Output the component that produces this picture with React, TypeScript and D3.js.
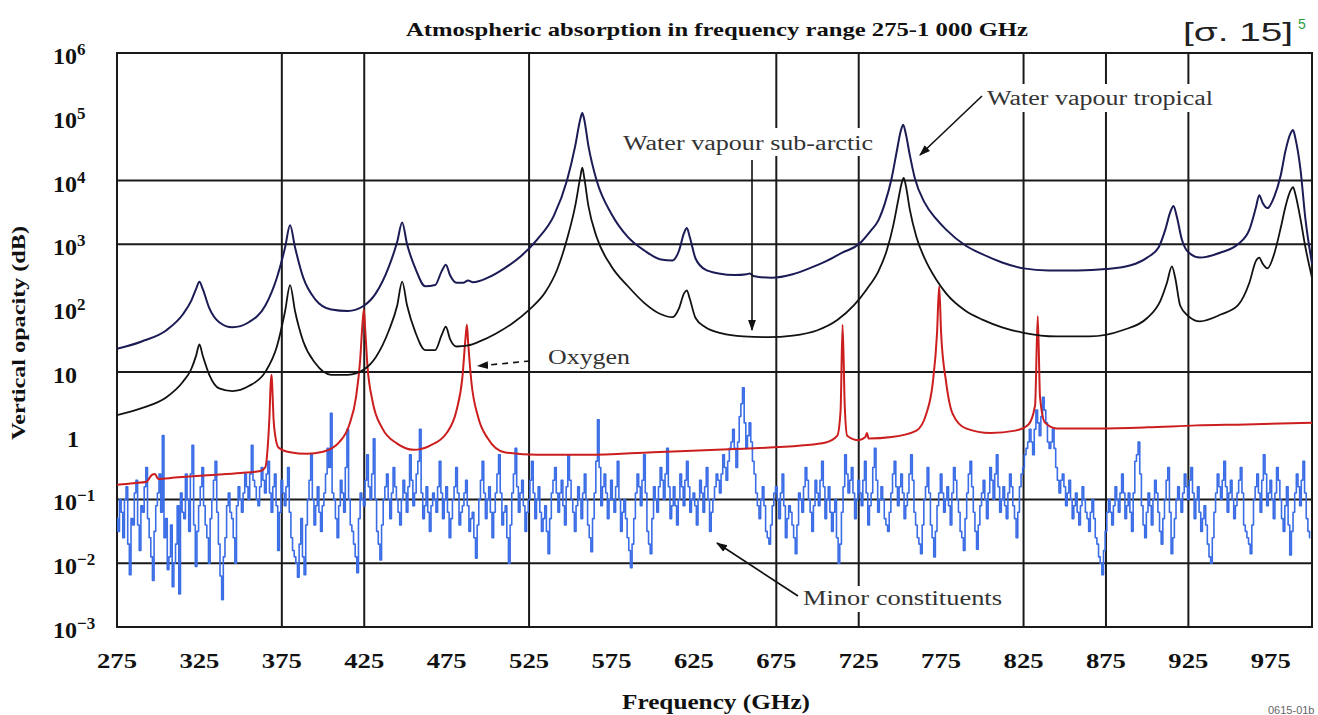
import React from 'react';
import * as d3 from 'd3';

// frequency axis (GHz)
const X_DOMAIN: [number, number] = [275, 1000];
const X_TICKS = [275, 325, 375, 425, 475, 525, 575, 625, 675, 725, 775, 825, 875, 925, 975];
const V_GRID = [375, 425, 525, 675, 725, 825, 875, 925];
// opacity axis, decades
const Y_TICK_EXP = [6, 5, 4, 3, 2, 1, 0, -1, -2, -3];
const H_GRID_EXP = [4, 3, 1, -1, -2];

// water vapour, tropical atmosphere [GHz, dB]
const tropical: [number, number][] = [
  [275, 23], [290, 30], [305, 45], [315, 80], [320, 130], [323, 200], [325, 260], [327, 200],
  [331, 100], [337, 60], [345, 50], [355, 60], [365, 110], [372, 300], [377, 900], [380, 2000],
  [383, 900], [388, 300], [395, 140], [405, 95], [415, 90], [425, 110], [432, 170], [440, 450],
  [445, 1100], [448, 2200], [451, 1000], [456, 420], [462, 220], [468, 230], [472, 380], [474.5, 480],
  [477, 330], [481, 250], [485, 250], [488, 270], [491, 255], [500, 300], [510, 420], [520, 650],
  [530, 1200], [540, 2800], [548, 10000], [553, 35000], [556, 90000], [557.3, 115000], [558.5, 90000],
  [561, 35000], [566, 10000], [575, 3000], [585, 1300], [595, 800], [605, 580], [612, 560], [616, 800],
  [619, 1500], [620.7, 1800], [622.5, 1300], [626, 600], [632, 400], [640, 350], [650, 330], [657, 340],
  [659, 350], [661, 320], [672, 300], [685, 340], [695, 420], [705, 540], [715, 740], [725, 1000],
  [732, 1600], [737, 2400], [741, 4500], [745, 11000], [748, 28000], [750.5, 60000], [752, 75000],
  [753.5, 55000], [756, 25000], [759, 11000], [765, 4500], [772, 2500], [778, 1700], [790, 950],
  [800, 700], [812, 520], [825, 420], [840, 390], [858, 390], [875, 410], [890, 470], [900, 620],
  [907, 900], [911, 1700], [914, 3200], [916, 4000], [918, 2700], [921, 1200], [925, 750], [932, 620],
  [945, 750], [955, 1000], [962, 1700], [966, 3800], [968, 5900], [970, 4500], [973, 3700], [977, 5500],
  [981, 12000], [984, 30000], [987, 55000], [988.5, 62000], [990, 45000], [993, 15000], [996, 2500],
  [1000, 500],
];

// water vapour, sub-arctic atmosphere [GHz, dB]
const subArctic: [number, number][] = [
  [275, 2.1], [290, 2.7], [305, 4], [315, 7], [320, 11], [323, 18], [325, 27], [327, 18], [331, 9],
  [337, 5.5], [345, 5], [355, 6], [365, 10], [372, 25], [377, 90], [380, 230], [383, 90], [388, 30],
  [395, 14], [405, 9], [415, 9], [425, 11], [432, 17], [440, 45], [445, 110], [448, 260], [451, 110],
  [456, 42], [462, 22], [468, 22], [472, 38], [474.5, 51], [477, 33], [481, 25], [488, 26], [495, 30],
  [505, 40], [515, 58], [525, 94], [535, 180], [542, 400], [548, 1200], [553, 4000], [556, 11000],
  [557.3, 16000], [558.5, 11000], [561, 4000], [566, 1300], [575, 450], [585, 220], [595, 120],
  [605, 80], [612, 72], [616, 100], [619, 170], [620.7, 190], [622.5, 140], [626, 70], [632, 50],
  [642, 40], [655, 36], [670, 35], [685, 37], [700, 45], [712, 65], [722, 110], [730, 200], [737, 380],
  [742, 800], [746, 2000], [749, 5000], [751, 9000], [752.3, 11000], [753.5, 8500], [756, 3500],
  [760, 1300], [765, 600], [772, 280], [778, 170], [790, 90], [800, 66], [812, 50], [825, 41],
  [845, 36], [865, 36], [885, 45], [900, 70], [908, 130], [912, 250], [915, 450], [917, 300], [920, 110],
  [925, 75], [932, 62], [945, 80], [955, 110], [962, 250], [966, 550], [968, 620], [970, 500],
  [973, 420], [977, 700], [981, 1800], [984, 4000], [987, 7000], [988.5, 7900], [990, 6000],
  [993, 2500], [996, 900], [1000, 300],
];

// oxygen [GHz, dB]
const oxygen: [number, number][] = [
  [275, 0.17], [285, 0.18], [293, 0.19], [296, 0.24], [298, 0.25], [300, 0.21], [310, 0.22],
  [330, 0.24], [350, 0.26], [362, 0.28], [365, 0.32], [366.5, 0.7], [367.5, 2], [368.3, 7], [368.8, 9],
  [369.3, 5], [370, 1.8], [371, 1.0], [373, 0.65], [380, 0.55], [390, 0.52], [400, 0.56], [410, 0.8],
  [416, 1.5], [420, 4], [422.5, 15], [424, 60], [424.8, 95], [425.5, 50], [427, 12], [430, 3.5],
  [436, 1.3], [445, 0.75], [455, 0.6], [465, 0.7], [475, 1.1], [481, 2.5], [484.5, 8], [486.5, 35],
  [487.3, 55], [488, 30], [490, 7], [494, 2], [500, 0.9], [510, 0.55], [530, 0.5], [560, 0.5],
  [600, 0.55], [650, 0.62], [690, 0.7], [705, 0.78], [712, 1.0], [714, 2.5], [715.2, 55], [716.5, 3],
  [718, 1.0], [725, 0.85], [729, 0.95], [730, 1.1], [731, 0.9], [745, 0.95], [760, 1.2], [766, 2.2],
  [770, 7], [772.5, 40], [773.8, 220], [775, 40], [778, 7], [782, 2.2], [790, 1.3], [805, 1.1],
  [820, 1.2], [828, 1.5], [832, 3], [833.6, 75], [835, 4], [838, 1.6], [845, 1.3], [870, 1.3],
  [900, 1.35], [930, 1.45], [960, 1.5], [1000, 1.6],
];

// minor constituents, log10(dB), odd GHz 275..999
const minorOdd = [
  // 275-323
  -1.3, -1.0, -1.6, -0.8, -2.18, -1.4, -0.7, -1.8, -1.2, -0.5, -1.6, -2.27, -1.1, -0.6, 0.0, -1.3, -1.9, -2.37, -1.7, -2.48, -1.2, -0.6, -1.5, -0.15, -2.05,
  // 325-373
  -1.1, -0.5, -1.4, -2.0, -1.0, -0.4, -1.7, -2.57, -1.6, -0.9, -1.3, -2.0, -0.8, -1.2, -0.6, -1.0, -0.15, -0.8, -1.1, -0.5, -0.9, -0.4, -1.2, -0.6, -1.8,
  // 375-423
  -0.7, -1.1, -0.5, -1.6, -1.9, -2.22, -1.3, -2.18, -1.0, -0.3, -1.4, -0.8, -1.5, -0.9, -0.2, 0.35, -1.0, -1.6, -0.7, -1.2, 0.1, -1.4, -1.7, -2.15, -0.9,
  // 425-473
  -1.1, -0.3, -1.0, -0.05, -1.5, -1.95, -1.0, -0.6, -1.3, -0.5, -1.0, -1.4, -0.7, -1.2, -0.3, -1.1, -0.6, 0.1, -1.3, -0.8, -1.5, -0.9, -1.2, -0.4, -1.3,
  // 475-523
  -0.8, -1.6, -1.0, -0.5, -1.4, -1.1, -0.7, -1.5, -1.2, -1.92, -1.0, -0.4, -1.3, -0.8, -1.6, -0.9, -0.3, -1.4, -1.1, -2.0, -0.9, -0.2, -1.2, -0.7, -1.5,
  // 525-573
  -1.0, -0.4, -1.3, -0.8, -1.5, -1.1, -1.85, -0.9, -0.5, -1.2, -0.7, -1.4, -0.3, -1.0, -1.5, -0.8, -1.3, -0.6, -1.4, -1.82, -0.9, 0.25, -1.1, -0.6, -1.3,
  // 575-623
  -0.7, -1.2, -0.4, -1.5, -1.0, -1.6, -2.07, -1.3, -0.6, -1.1, -0.3, -1.5, -1.85, -0.8, -1.2, -0.5, -1.0, -0.2, -1.3, -0.8, -1.4, -0.6, -1.1, -0.4, -1.2,
  // 625-673
  -0.9, -1.4, -0.7, -1.2, -0.5, -1.5, -1.0, -0.6, -0.9, -0.3, -0.7, -0.2, 0.1, -0.5, 0.3, 0.75, -0.2, 0.2, -0.4, -0.9, -1.3, -0.8, -1.5, -1.7, -1.1,
  // 675-723
  -0.8, -1.3, -0.6, -1.6, -1.1, -1.4, -1.85, -0.9, -1.2, -0.5, -1.0, -1.5, -0.7, -1.1, -0.4, -1.3, -0.8, -1.5, -1.0, -2.0, -1.2, -0.3, -0.9, -0.5, -1.3,
  // 725-773
  -0.7, -1.1, -0.4, -1.4, -0.9, -0.2, -1.2, -0.8, -1.3, -1.5, -0.9, -0.4, -1.1, -0.6, -1.3, -0.9, -0.3, -1.2, -1.6, -1.85, -1.0, -0.5, -1.4, -1.9, -1.1,
  // 775-823
  -0.6, -1.2, -0.8, -1.4, -0.5, -1.0, -1.5, -1.8, -0.9, -0.4, -1.2, -1.78, -1.1, -0.7, -1.3, -0.5, -1.0, -0.3, -1.2, -0.8, -1.3, -0.6, -1.1, -1.6, -0.8,
  // 825-873
  -0.5, -0.2, 0.1, -0.3, 0.4, 0.0, 0.6, 0.2, -0.2, 0.1, -0.5, -0.9, -0.6, -1.1, -0.7, -1.3, -0.9, -1.4, -0.8, -1.2, -1.5, -1.0, -1.6, -1.9, -2.18,
  // 875-923
  -1.5, -1.0, -1.4, -0.8, -1.2, -0.6, -1.3, -0.9, -1.5, -0.4, -0.1, -1.1, -1.6, -0.9, -1.4, -0.7, -1.2, -1.7, -1.0, -0.5, -1.85, -1.3, -0.8, -1.2, -0.6,
  // 925-973
  -1.0, -0.5, -1.3, -0.8, -1.5, -1.1, -1.7, -2.0, -1.2, -0.6, -1.0, -0.4, -1.2, -0.7, -1.3, -0.9, -0.5, -1.4, -1.6, -1.85, -1.0, -0.6, -1.2, -0.3, -1.1,
  // 975-999
  -0.7, -1.3, -0.5, -1.0, -1.5, -0.8, -1.87, -1.2, -0.6, -1.1, -0.4, -1.3, -1.6,
];

// minor constituents, log10(dB), even GHz 276..998
const minorEven = [
  // 276-324
  -1.5, -1.2, -1.0, -1.7, -1.3, -0.9, -1.4, -1.1, -0.8, -1.3, -1.9, -1.5, -0.9, -1.2, -1.6, -2.1, -1.4, -2.0, -1.1, -0.9, -1.3, -1.0, -0.6, -1.4, -1.5,
  // 326-374
  -0.8, -1.1, -1.6, -1.3, -0.7, -1.2, -2.2, -1.9, -1.1, -1.2, -1.6, -1.1, -1.0, -0.9, -0.8, -0.6, -0.7, -1.0, -0.8, -0.7, -0.6, -0.9, -0.8, -1.1, -1.2,
  // 376-424
  -0.9, -0.8, -1.2, -1.8, -2.0, -1.7, -1.9, -1.4, -0.7, -1.0, -1.1, -1.2, -1.1, -0.6, -0.5, -0.9, -1.3, -1.1, -0.9, -0.5, -1.0, -1.5, -1.9, -1.3, -1.0,
  // 426-474
  -0.7, -0.8, -0.6, -1.0, -1.7, -1.4, -0.8, -1.0, -0.9, -0.8, -1.2, -1.0, -0.9, -0.8, -0.7, -0.9, -0.4, -0.9, -1.1, -1.2, -1.1, -1.0, -0.8, -0.9, -1.0,
  // 476-524
  -1.2, -1.3, -0.8, -0.9, -1.2, -0.9, -1.1, -1.3, -1.6, -1.4, -0.7, -0.9, -1.0, -1.2, -1.2, -0.6, -0.9, -1.2, -1.6, -1.4, -0.6, -0.8, -0.9, -1.1, -1.2,
  // 526-574
  -0.7, -0.9, -1.0, -1.2, -1.3, -1.5, -1.3, -0.7, -0.9, -0.9, -1.1, -0.8, -0.7, -1.2, -1.1, -1.0, -0.9, -1.0, -1.6, -1.3, -0.4, -0.5, -0.8, -0.9, -1.0,
  // 576-624
  -1.0, -0.8, -1.0, -1.2, -1.3, -1.8, -1.7, -0.9, -0.8, -0.7, -0.9, -1.7, -1.3, -1.0, -0.8, -0.7, -0.6, -0.8, -1.1, -1.1, -1.0, -0.8, -0.7, -0.8, -1.0,
  // 626-674
  -1.1, -1.0, -0.9, -0.8, -1.0, -1.2, -0.8, -0.7, -0.6, -0.5, -0.4, -0.1, -0.2, -0.1, 0.5, 0.2, 0.0, -0.1, -0.6, -1.1, -1.0, -1.1, -1.6, -1.4, -0.9,
  // 676-724
  -1.0, -0.9, -1.1, -1.3, -1.2, -1.6, -1.4, -1.0, -0.8, -0.7, -1.2, -1.1, -0.9, -0.7, -0.8, -1.0, -1.2, -1.2, -1.6, -1.7, -0.8, -0.6, -0.7, -0.9, -1.0,
  // 726-774
  -0.9, -0.7, -0.9, -1.1, -0.5, -0.7, -1.0, -1.0, -1.4, -1.2, -0.6, -0.8, -0.8, -0.9, -1.1, -0.6, -0.7, -1.4, -1.7, -1.4, -0.8, -0.9, -1.6, -1.5, -0.9,
  // 776-824
  -0.9, -1.0, -1.1, -0.9, -0.7, -1.2, -1.6, -1.3, -0.6, -0.8, -1.5, -1.4, -0.9, -1.0, -0.9, -0.7, -0.6, -0.8, -1.0, -1.1, -0.9, -0.8, -1.3, -1.2, -0.6,
  // 826-874
  -0.3, -0.1, -0.1, 0.1, 0.2, 0.3, 0.4, -0.1, -0.1, -0.2, -0.7, -0.7, -0.8, -0.9, -1.0, -1.1, -1.2, -1.1, -1.0, -1.3, -1.2, -1.3, -1.7, -2.0, -1.8,
  // 876-924
  -1.2, -1.2, -1.1, -1.0, -0.9, -0.9, -1.1, -1.2, -0.9, -0.3, -0.6, -1.4, -1.2, -1.1, -1.0, -0.9, -1.5, -1.3, -0.7, -1.2, -1.6, -1.0, -1.0, -0.9, -0.8,
  // 926-974
  -0.7, -0.9, -1.0, -1.2, -1.3, -1.4, -1.9, -1.6, -0.9, -0.8, -0.7, -0.8, -0.9, -1.0, -1.1, -0.7, -0.9, -1.5, -1.7, -1.4, -0.8, -0.9, -0.7, -0.6, -0.9,
  // 976-998
  -1.0, -0.9, -0.7, -1.3, -1.1, -1.4, -1.5, -0.9, -0.8, -0.7, -0.9, -1.5,
];

const W = 1318;
const H = 715;
const M = { left: 117, top: 53, right: 1312, bottom: 627 };
const SERIF = '"Liberation Serif", "Times New Roman", serif';
const SANS = '"Liberation Sans", Arial, sans-serif';

const x = d3.scaleLinear().domain(X_DOMAIN).range([M.left, M.right]);
const y = d3.scaleLog().domain([1e-3, 1e6]).range([M.bottom, M.top]);

// interleave the two readings into one 1 GHz spectrum
const minor: [number, number][] = [];
minorOdd.forEach((v, i) => {
  minor.push([275 + 2 * i, Math.pow(10, v)]);
  if (i < minorEven.length) minor.push([276 + 2 * i, Math.pow(10, minorEven[i])]);
});

const smooth = d3.line<[number, number]>()
  .x(d => x(d[0]))
  .y(d => y(d[1]))
  .curve(d3.curveMonotoneX);

const stepped = d3.line<[number, number]>()
  .x(d => x(d[0]))
  .y(d => y(d[1]))
  .curve(d3.curveStep);

const supLabel = (e: number) => {
  if (e === 1) return { base: '10', sup: '' };
  if (e === 0) return { base: '1', sup: '' };
  return { base: '10', sup: e < 0 ? '\u2212' + Math.abs(e) : String(e) };
};

export default function App() {
  return (
    <svg width={W} height={H} style={{ position: 'absolute', left: 0, top: 0, background: '#fff' }}>
      <defs>
        <clipPath id="plot">
          <rect x={M.left} y={M.top} width={M.right - M.left + 4} height={M.bottom - M.top} />
        </clipPath>
        <marker id="arr" viewBox="0 0 10 10" refX="9" refY="5" markerWidth="7" markerHeight="7" orient="auto">
          <path d="M0,1.5 L10,5 L0,8.5 Z" fill="#111" />
        </marker>
      </defs>

      {/* title */}
      <text x={717} y={36} textAnchor="middle" fontFamily={SERIF} fontWeight="bold" fontSize={19}
        textLength={622} lengthAdjust="spacingAndGlyphs" fill="#111">
        Atmospheric absorption in frequency range 275-1 000 GHz
      </text>
      <text x={1183} y={41} fontFamily={SANS} fontSize={26} fill="#222"
        textLength={110} lengthAdjust="spacingAndGlyphs">[σ. 15]</text>
      <text x={1298} y={29} fontFamily={SANS} fontSize={14} fill="#2e9e3e">5</text>

      {/* grid */}
      <g stroke="#1a1a1a" strokeWidth={2}>
        {V_GRID.map(f => (
          <line key={'v' + f} x1={x(f)} x2={x(f)} y1={M.top} y2={M.bottom} />
        ))}
        {H_GRID_EXP.map(e => (
          <line key={'h' + e} x1={M.left} x2={M.right} y1={y(Math.pow(10, e))} y2={y(Math.pow(10, e))} />
        ))}
        <rect x={M.left} y={M.top} width={M.right - M.left} height={M.bottom - M.top} fill="none" />
      </g>

      {/* label backgrounds hide the grid */}
      <rect x={980} y={84} width={250} height={28} fill="#fff" />
      <rect x={618} y={128} width={262} height={28} fill="#fff" />
      <rect x={800} y={586} width={206} height={26} fill="#fff" />

      {/* series */}
      <g clipPath="url(#plot)" fill="none" strokeLinejoin="round">
        <path d={stepped(minor) || ''} stroke="#3a6de6" strokeWidth={1.6} />
        <path d={smooth(oxygen) || ''} stroke="#cc1e1e" strokeWidth={2} />
        <path d={smooth(subArctic) || ''} stroke="#121212" strokeWidth={1.8} />
        <path d={smooth(tropical) || ''} stroke="#1b1b55" strokeWidth={2} />
      </g>

      {/* y ticks */}
      {Y_TICK_EXP.map(e => {
        const l = supLabel(e);
        return (
          <text key={'y' + e} x={e === 0 ? 67 : 53} y={y(Math.pow(10, e)) + 11} fontFamily={SERIF}
            fontWeight="bold" fontSize={24} fill="#111">
            {l.base}
            {l.sup && <tspan dy={-9} fontSize={17}>{l.sup}</tspan>}
          </text>
        );
      })}

      {/* x ticks */}
      {X_TICKS.map(f => (
        <text key={'x' + f} x={x(f)} y={668} textAnchor="middle" fontFamily={SERIF} fontWeight="bold"
          fontSize={22} textLength={40} lengthAdjust="spacingAndGlyphs" fill="#111">{f}</text>
      ))}

      <text x={716} y={709} textAnchor="middle" fontFamily={SERIF} fontWeight="bold" fontSize={20}
        textLength={188} lengthAdjust="spacingAndGlyphs" fill="#111">Frequency (GHz)</text>
      <text transform="translate(25,333) rotate(-90)" textAnchor="middle" fontFamily={SERIF} fontWeight="bold"
        fontSize={19} textLength={214} lengthAdjust="spacingAndGlyphs" fill="#111">Vertical opacity (dB)</text>

      {/* annotations */}
      <g fontFamily={SERIF} fontSize={20} fill="#333">
        <text x={987} y={105} textLength={226} lengthAdjust="spacingAndGlyphs">Water vapour tropical</text>
        <text x={623} y={150} textLength={250} lengthAdjust="spacingAndGlyphs">Water vapour sub-arctic</text>
        <text x={548} y={364} textLength={82} lengthAdjust="spacingAndGlyphs">Oxygen</text>
        <text x={803} y={605} textLength={199} lengthAdjust="spacingAndGlyphs">Minor constituents</text>
      </g>
      <g stroke="#111" strokeWidth={1.6} fill="none">
        <line x1={982} y1={96} x2={920} y2={155} markerEnd="url(#arr)" />
        <line x1={752} y1={160} x2={752} y2={330} markerEnd="url(#arr)" />
        <line x1={530} y1={361} x2={478} y2={366} strokeDasharray="6,5" markerEnd="url(#arr)" />
        <line x1={798} y1={596} x2={717} y2={543} markerEnd="url(#arr)" />
      </g>

      <text x={1268} y={714} fontFamily={SANS} fontSize={11} fill="#666">0615-01b</text>
    </svg>
  );
}
